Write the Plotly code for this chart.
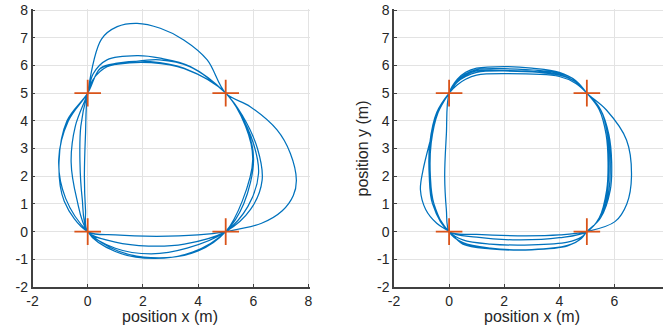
import plotly.graph_objects as go

# ---------------- data ----------------
# Left panel: trajectory laps (0,0)->(5,0)->(5,5)->(0,5)->(0,0)
left_x = [
    # lap 1 (transient)
    0, 1.0, 2.5, 4.0, 5,
    6.3, 7.05, 7.45, 7.56, 7.34, 6.86, 5.89, 5,
    4.33, 3.48, 2.63, 1.79, 1.07, 0.5, 0,
    -0.08, -0.12, -0.08, 0,
    # lap 2
    1.0, 2.2, 3.5, 5,
    5.9, 6.32, 6.15, 5.6, 5,
    3.72, 2.63, 1.79, 0.7, 0.2, 0,
    -0.45, -0.6, -0.4, 0,
    # lap 3
    1.0, 2.3, 3.6, 5,
    5.8, 6.19, 6.0, 5.5, 5,
    3.7, 2.6, 1.6, 0.7, 0.2, 0,
    -0.25, -0.28, -0.2, 0,
    # lap 4
    1.0, 2.4, 3.8, 5,
    5.65, 6.01, 5.78, 5,
    3.48, 2.27, 1.07, 0.46, 0,
    -0.7, -1.05, -0.8, 0,
    # lap 5
    1.1, 2.6, 4.0, 5,
    5.6, 5.98, 5.72, 5,
    3.5, 2.3, 1.1, 0.45, 0,
    -0.75, -1.04, -0.85, 0,
]
left_y = [
    0, -0.12, -0.17, -0.12, 0,
    0.3, 0.75, 1.3, 1.86, 2.83, 3.67, 4.51, 5,
    6.2, 6.92, 7.34, 7.52, 7.4, 6.95, 5,
    3.5, 2.0, 0.8, 0,
    -0.38, -0.52, -0.45, 0,
    0.8, 1.86, 3.0, 4.2, 5,
    5.96, 6.26, 6.35, 6.2, 5.7, 5,
    3.8, 2.5, 1.2, 0,
    -0.6, -0.8, -0.6, 0,
    0.9, 2.1, 3.2, 4.3, 5,
    5.95, 6.2, 6.12, 5.95, 5.5, 5,
    3.8, 2.5, 1.2, 0,
    -0.72, -0.97, -0.74, 0,
    1.0, 2.59, 3.7, 5,
    5.9, 6.14, 6.08, 5.9, 5,
    4.0, 2.6, 1.2, 0,
    -0.7, -0.95, -0.7, 0,
    1.1, 2.6, 3.8, 5,
    5.88, 6.1, 6.05, 5.88, 5,
    4.0, 2.5, 1.1, 0,
]

# Right panel trajectory laps
right_x = [
    # lap 1
    0, 1.0, 2.5, 4.0, 5,
    6.02, 6.45, 6.62, 6.44, 5.71, 5,
    4.6, 4.0, 3.0, 2.0, 1.0, 0.6, 0.3, 0,
    -0.1, -0.16, -0.1, 0,
    # lap 2
    0.5, 1.5, 3.0, 4.3, 4.8, 5,
    5.5, 5.8, 5.85, 5.78, 5.5, 5,
    4.6, 4.0, 2.0, 1.0, 0.6, 0.3, 0,
    -0.4, -0.68, -0.95, -1.04, -0.85, -0.45, 0,
    # lap 3
    0.5, 1.5, 3.0, 4.3, 4.8, 5,
    5.5, 5.75, 5.8, 5.75, 5.5, 5,
    4.6, 4.0, 2.0, 1.0, 0.6, 0.3, 0,
    -0.45, -0.7, -0.72, -0.6, 0,
    # lap 4
    0.5, 1.5, 3.0, 4.3, 4.8, 5,
    5.5, 5.85, 5.9, 5.8, 5.5, 5,
    4.6, 4.0, 2.0, 1.0, 0.6, 0.3, 0,
    -0.45, -0.68, -0.7, -0.6, 0,
    # lap 5
    1.0, 2.5, 4.0, 5,
    5.45, 5.72, 5.77, 5.7, 5.45, 5,
    4.6, 4.0, 2.0, 1.0, 0.6, 0.3, 0,
    -0.4, -0.65, -0.68, -0.55, 0,
]
right_y = [
    0, -0.1, -0.15, -0.12, 0,
    0.36, 1.0, 1.99, 3.31, 4.39, 5,
    5.45, 5.75, 5.9, 5.96, 5.9, 5.75, 5.5, 5,
    3.5, 2.0, 0.8, 0,
    -0.4, -0.6, -0.65, -0.5, -0.25, 0,
    0.5, 1.5, 2.5, 3.5, 4.4, 5,
    5.4, 5.65, 5.8, 5.75, 5.6, 5.4, 5,
    4.3, 3.3, 2.2, 1.5, 0.8, 0.3, 0,
    -0.45, -0.62, -0.66, -0.52, -0.25, 0,
    0.5, 1.5, 2.5, 3.5, 4.4, 5,
    5.35, 5.6, 5.7, 5.65, 5.5, 5.3, 5,
    4.3, 3.2, 2.0, 1.0, 0,
    -0.3, -0.45, -0.48, -0.38, -0.2, 0,
    0.5, 1.5, 2.5, 3.5, 4.4, 5,
    5.45, 5.72, 5.88, 5.85, 5.7, 5.45, 5,
    4.3, 3.2, 2.0, 1.0, 0,
    -0.2, -0.3, -0.22, 0,
    0.5, 1.5, 2.5, 3.5, 4.4, 5,
    5.4, 5.68, 5.82, 5.8, 5.65, 5.42, 5,
    4.3, 3.2, 2.0, 1.0, 0,
]

# Waypoints (orange crosses)
wp_x = [0, 5, 5, 0]
wp_y = [0, 0, 5, 5]

x_tickvals = [-2, 0, 2, 4, 6, 8]
x_ticktext = ["-2", "0", "2", "4", "6", "8"]
y_tickvals = [-2, -1, 0, 1, 2, 3, 4, 5, 6, 7, 8]
y_ticktext = ["-2", "-1", "0", "1", "2", "3", "4", "5", "6", "7", "8"]

x_label = "position x (m)"
y_label = "position y (m)"

# ---------------- figure ----------------
BLUE = "#0072BD"
ORANGE = "#D95319"
TXT = "#262626"
FONT = "Liberation Sans, Arial, sans-serif"
W, H = 663, 327
PPU = 27.6  # pixels per data unit
EXT = 0.05  # small range extension so the last grid line is drawn

fig = go.Figure()
for xs, ys, xa, ya in [(left_x, left_y, "x", "y"), (right_x, right_y, "x2", "y2")]:
    fig.add_trace(go.Scatter(x=xs, y=ys, mode="lines",
                             line=dict(color=BLUE, width=1.25, shape="spline", smoothing=1.0),
                             xaxis=xa, yaxis=ya, showlegend=False, hoverinfo="skip"))
    fig.add_trace(go.Scatter(x=wp_x, y=wp_y, mode="markers",
                             marker=dict(symbol="cross-thin", size=19,
                                         line=dict(color=ORANGE, width=1.8)),
                             xaxis=xa, yaxis=ya, showlegend=False))

# vertical: y=-2 at px 287, y=8 at px 10
ybot = 287
ytop = ybot - (10 + EXT) * 27.7
ydom = [(H - ybot) / H, (H - ytop) / H]
# left panel horizontal
lx0 = 32.5
lx1 = lx0 + (10 + EXT) * PPU
# right panel horizontal (cut by the window edge)
rx0 = 394
rx1 = W
rmax = -2 + (rx1 - rx0) / 27.55

axis_common = dict(
    showgrid=True, gridcolor="#e3e3e3", gridwidth=1,
    showline=True, linecolor="#404040", linewidth=1.5,
    ticks="inside", ticklen=3, tickcolor="#404040", tickwidth=1,
    tickfont=dict(family=FONT, size=14, color=TXT),
    ticklabeloverflow="allow",
    zeroline=False, mirror=False, fixedrange=True, automargin=False,
)

title_y = (H - 316) / H
annotations = [
    dict(text=x_label, x=(lx0 + 5 * PPU) / W, y=title_y, xref="paper", yref="paper",
         xanchor="center", yanchor="middle", showarrow=False,
         font=dict(family=FONT, size=16, color=TXT)),
    dict(text=x_label, x=(rx0 + 5 * 27.55) / W, y=title_y, xref="paper", yref="paper",
         xanchor="center", yanchor="middle", showarrow=False,
         font=dict(family=FONT, size=16, color=TXT)),
    dict(text=y_label, x=362 / W, y=(H - 148.5) / H, xref="paper", yref="paper",
         xanchor="center", yanchor="middle", showarrow=False, textangle=-90,
         font=dict(family=FONT, size=16, color=TXT)),
]

fig.update_layout(
    width=W, height=H,
    margin=dict(l=0, r=0, t=0, b=0),
    paper_bgcolor="white", plot_bgcolor="white",
    font=dict(family=FONT, color=TXT),
    xaxis=dict(domain=[lx0 / W, lx1 / W], range=[-2, 8 + EXT], anchor="y",
               tickvals=x_tickvals, ticktext=x_ticktext, **axis_common),
    yaxis=dict(domain=ydom, range=[-2, 8 + EXT], anchor="x",
               tickvals=y_tickvals, ticktext=y_ticktext, **axis_common),
    xaxis2=dict(domain=[rx0 / W, rx1 / W], range=[-2, rmax], anchor="y2",
                tickvals=x_tickvals, ticktext=x_ticktext, **axis_common),
    yaxis2=dict(domain=ydom, range=[-2, 8 + EXT], anchor="x2",
                tickvals=y_tickvals, ticktext=y_ticktext, **axis_common),
    annotations=annotations,
)

fig.write_html("out.html",
               config={"displayModeBar": False},
               post_script="document.body.style.margin='0';document.body.style.overflow='hidden';")
